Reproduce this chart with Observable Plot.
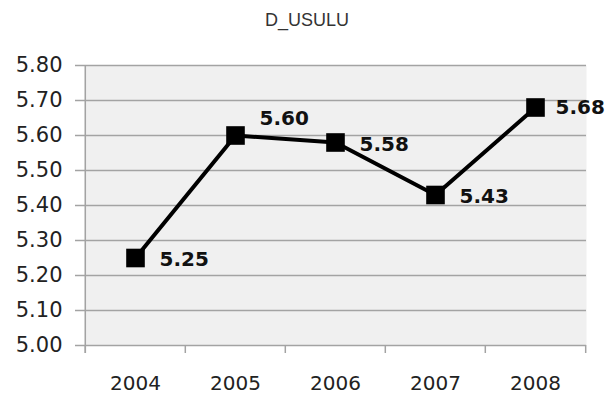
<!DOCTYPE html>
<html>
<head>
<meta charset="utf-8">
<script src="https://cdn.jsdelivr.net/npm/d3@7"></script>
<script src="https://cdn.jsdelivr.net/npm/@observablehq/plot@0.6"></script>
<style>
  html, body { margin: 0; padding: 0; background: #fff; }
  #title { width: 614px; height: 38px; line-height: 40px; text-align: center;
           font-family: "Liberation Sans", Arial, sans-serif; font-size: 18px; color: #333; }
</style>
</head>
<body>
<div id="title"></div>
<div id="chart"></div>
<script>
const title = "D_USULU";
const years = ["2004", "2005", "2006", "2007", "2008"];
const values = [5.25, 5.60, 5.58, 5.43, 5.68];
const yTicks = [5.0, 5.1, 5.2, 5.3, 5.4, 5.5, 5.6, 5.7, 5.8];

const data = years.map((year, i) => ({year, value: values[i]}));

const W = 614, H = 360, ML = 84, MR = 28, MT = 27, MB = 53;
const bw = (W - ML - MR) / years.length;
const plotH = H - MT - MB;
const grid = "#a3a3a3";
const font = "DejaVu Sans";

document.getElementById("title").textContent = title;

const chart = Plot.plot({
  width: W, height: H,
  marginLeft: ML, marginRight: MR, marginTop: MT, marginBottom: MB,
  style: {fontFamily: font, background: "#fff", color: "#222"},
  x: {type: "band", domain: years, padding: 0, label: null},
  y: {domain: [5.0, 5.8], label: null},
  marks: [
    Plot.frame({fill: "#f0f0f0", stroke: "none"}),
    Plot.ruleY(yTicks, {y: d => d, stroke: grid, strokeWidth: 1.5, insetLeft: -9}),
    Plot.ruleX([years[0]], {x: d => d, dx: -bw / 2, stroke: grid, strokeWidth: 1.5, insetBottom: -8}),
    Plot.ruleX(years, {x: d => d, dx: -bw / 2, stroke: grid, strokeWidth: 1.5, insetTop: plotH, insetBottom: -8}),
    Plot.ruleX([years[years.length - 1]], {x: d => d, dx: bw / 2, stroke: grid, strokeWidth: 1.5, insetTop: plotH, insetBottom: -8}),
    Plot.axisY(yTicks, {tickSize: 0, tickPadding: 22, tickFormat: d3.format(".2f"), fontSize: 21, fill: "#222", label: null}),
    Plot.axisX({tickSize: 0, tickPadding: 30, fontSize: 20, fill: "#222", label: null}),
    Plot.line(data, {x: "year", y: "value", stroke: "black", strokeWidth: 4}),
    Plot.dot(data, {x: "year", y: "value", symbol: "square", r: 10.5, fill: "black", stroke: "none"}),
    Plot.text(data, {filter: d => d.year !== "2005" && d.year !== "2008", x: "year", y: "value", text: d => d.value.toFixed(2),
      textAnchor: "start", dx: 24, dy: 2, fontWeight: "bold", fontSize: 20, fill: "#111"}),
    Plot.text(data, {filter: d => d.year === "2008", x: "year", y: "value", text: d => d.value.toFixed(2),
      textAnchor: "start", dx: 20, dy: 0, fontWeight: "bold", fontSize: 20, fill: "#111"}),
    Plot.text(data, {filter: d => d.year === "2005", x: "year", y: "value", text: d => d.value.toFixed(2),
      textAnchor: "start", dx: 24, dy: -17, fontWeight: "bold", fontSize: 20, fill: "#111"})
  ]
});
document.getElementById("chart").appendChild(chart);
</script>
</body>
</html>
